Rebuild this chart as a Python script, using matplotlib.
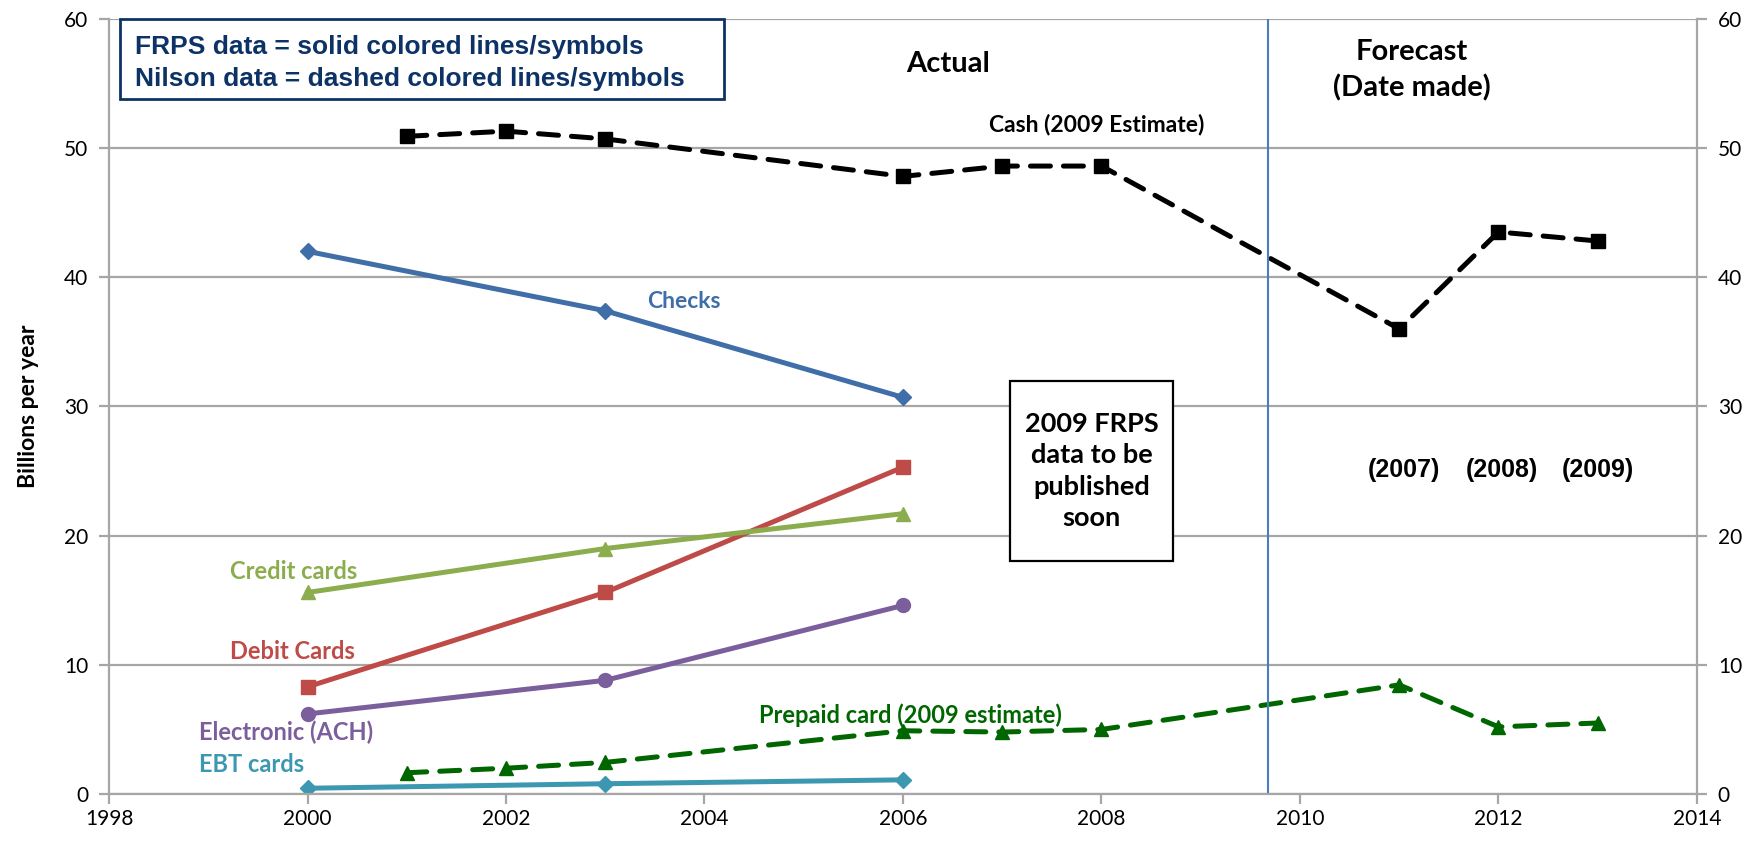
import numpy as np
import matplotlib
matplotlib.use("Agg")
import matplotlib.pyplot as plt
from matplotlib.patches import Rectangle

plt.rcParams['font.family'] = ['Lato', 'DejaVu Sans']

# FRPS series (solid)
frps_years = [2000, 2003, 2006]
checks = [42.0, 37.4, 30.7]
debit = [8.3, 15.6, 25.3]
credit = [15.6, 19.0, 21.7]
electronic = [6.2, 8.8, 14.6]
ebt = [0.45, 0.8, 1.1]

# Nilson series (dashed)
nilson_years = [2001, 2002, 2003, 2006, 2007, 2008, 2011, 2012, 2013]
cash = [50.9, 51.3, 50.7, 47.8, 48.6, 48.6, 36.0, 43.5, 42.8]
prepaid = [1.65, 2.0, 2.45, 4.9, 4.8, 5.0, 8.45, 5.2, 5.5]

forecast_labels = ["(2007)", "(2008)", "(2009)"]
forecast_x = [2011.05, 2012.03, 2013.0]
split_year = 2009.68

fig = plt.figure(figsize=(17.64, 8.52), dpi=100)
ax = fig.add_axes([0.0618, 0.068, 0.9002, 0.910])

grid_col = '#a6a6a6'
lw = 3.6

# solid FRPS lines
ax.plot(frps_years, checks, color='#3f6ea8', lw=lw, marker='D', ms=8)
ax.plot(frps_years, debit, color='#be4b48', lw=lw, marker='s', ms=10)
ax.plot(frps_years, credit, color='#8cad4e', lw=lw, marker='^', ms=10)
ax.plot(frps_years, electronic, color='#7b5e9c', lw=lw, marker='o', ms=10)
ax.plot(frps_years, ebt, color='#3c97b0', lw=lw, marker='D', ms=8)

# dashed Nilson lines
ax.plot(nilson_years, cash, color='black', lw=lw, marker='s', ms=10,
        dashes=(4, 2.6), dash_capstyle='round')
ax.plot(nilson_years, prepaid, color='#006600', lw=lw, marker='^', ms=10,
        dashes=(4, 2.6), dash_capstyle='round')

ax.axvline(split_year, color='#4a7ebb', lw=1.5)

ax.set_xlim(1998, 2014)
ax.set_ylim(0, 60)
ax.set_xticks(np.arange(1998, 2015, 2))
ax.set_yticks(np.arange(0, 61, 10))
ax.yaxis.grid(True, color=grid_col, lw=1.6)
ax.set_axisbelow(True)
for s in ax.spines.values():
    s.set_color(grid_col)
    s.set_linewidth(1.6)
ax.spines['top'].set_visible(False)
ax.tick_params(axis='both', colors=grid_col, labelcolor='black', labelsize=15,
               length=7, width=1.6, right=True, labelright=True)
ax.tick_params(axis='y', pad=8)
ax.set_ylabel("Billions per year", fontsize=16.5, fontweight='bold', labelpad=18)

# annotations
ax.text(2006.45, 56.5, "Actual", fontsize=21, fontweight='bold', ha='center', va='center')
ax.text(2011.13, 56.0, "Forecast\n(Date made)", fontsize=21, fontweight='bold',
        ha='center', va='center', linespacing=1.4)
ax.text(2007.95, 51.8, "Cash (2009 Estimate)", fontsize=16.5, fontweight='bold',
        ha='center', va='center')
ax.text(2003.79, 38.15, "Checks", fontsize=16.5, fontweight='bold', color='#3f6ea8',
        ha='center', va='center')
ax.text(1999.22, 17.2, "Credit cards", fontsize=17, fontweight='bold', color='#8cad4e',
        ha='left', va='center')
ax.text(1999.22, 11.0, "Debit Cards", fontsize=17, fontweight='bold', color='#be4b48',
        ha='left', va='center')
ax.text(1998.91, 4.8, "Electronic (ACH)", fontsize=17, fontweight='bold', color='#7b5e9c',
        ha='left', va='center')
ax.text(1998.91, 2.26, "EBT cards", fontsize=17, fontweight='bold', color='#3c97b0',
        ha='left', va='center')
ax.text(2004.55, 6.1, "Prepaid card (2009 estimate)", fontsize=17, fontweight='bold',
        color='#006600', ha='left', va='center')

# "to be published" note box
ax.add_patch(Rectangle((2007.08, 18.0), 1.64, 14.0, fc='white', ec='black', lw=1.6, zorder=4))
ax.text(2007.9, 25.0, "2009 FRPS\ndata to be\npublished\nsoon", fontsize=19.5,
        fontweight='bold', ha='center', va='center', linespacing=1.38, zorder=5)
for lab, xx in zip(forecast_labels, forecast_x):
    ax.text(xx, 25.1, lab, family=['Liberation Sans', 'DejaVu Sans'], fontsize=18,
            fontweight='bold', ha='center', va='center')

# legend-like note box
navy = '#0d3366'
ax.add_patch(Rectangle((0.007, 0.897), 0.380, 0.103, transform=ax.transAxes,
                       fill=True, fc='white', ec=navy, lw=2, zorder=5, clip_on=False))
ax.text(0.0164, 0.964, "FRPS data = solid colored lines/symbols", transform=ax.transAxes,
        family=['Liberation Sans', 'DejaVu Sans'], fontsize=19, fontweight='bold',
        color=navy, ha='left', va='center', zorder=6)
ax.text(0.0164, 0.922, "Nilson data = dashed colored lines/symbols", transform=ax.transAxes,
        family=['Liberation Sans', 'DejaVu Sans'], fontsize=19, fontweight='bold',
        color=navy, ha='left', va='center', zorder=6)

fig.savefig("out.png", dpi=100)
